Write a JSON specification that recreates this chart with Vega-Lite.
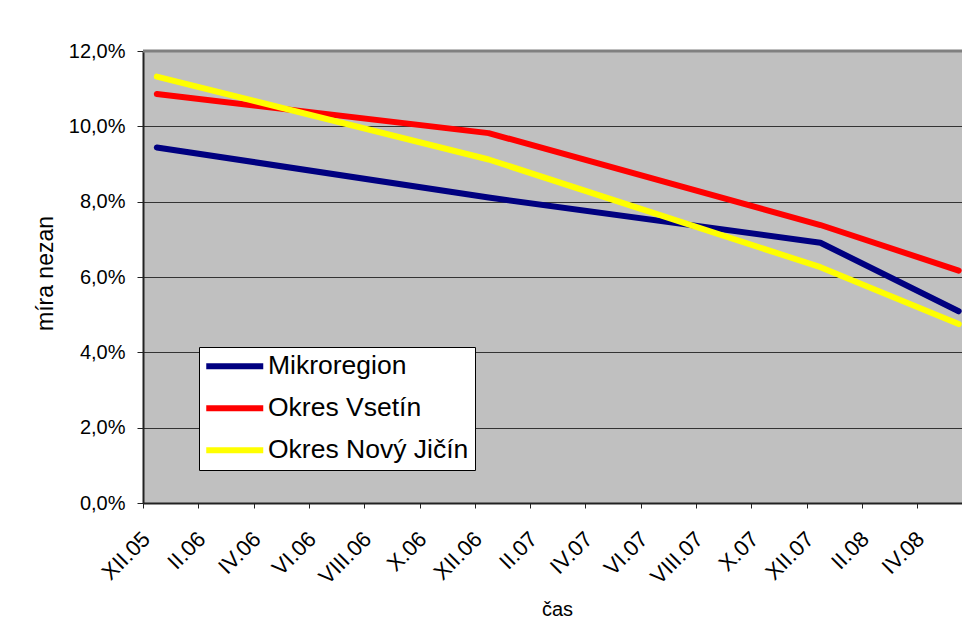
{
  "$schema": "https://vega.github.io/schema/vega-lite/v6.json",
  "autosize": {"type": "none"},
  "width": 819,
  "height": 452,
  "padding": {"left": 143, "top": 51, "right": 0, "bottom": 131},
  "background": "white",
  "config": {
    "font": "Liberation Sans",
    "view": {"stroke": null, "fill": "#C0C0C0"}
  },
  "data": {
    "values": [
      {"oblast": "Mikroregion", "mesic": 0, "obdobi": "XII.05", "mira": 0.0944},
      {"oblast": "Mikroregion", "mesic": 12, "obdobi": "XII.06", "mira": 0.0811},
      {"oblast": "Mikroregion", "mesic": 24, "obdobi": "XII.07", "mira": 0.0691},
      {"oblast": "Mikroregion", "mesic": 29, "obdobi": "V.08", "mira": 0.0509},
      {"oblast": "Okres Vsetín", "mesic": 0, "obdobi": "XII.05", "mira": 0.1086},
      {"oblast": "Okres Vsetín", "mesic": 12, "obdobi": "XII.06", "mira": 0.0982},
      {"oblast": "Okres Vsetín", "mesic": 24, "obdobi": "XII.07", "mira": 0.0738},
      {"oblast": "Okres Vsetín", "mesic": 29, "obdobi": "V.08", "mira": 0.0617},
      {"oblast": "Okres Nový Jičín", "mesic": 0, "obdobi": "XII.05", "mira": 0.1132},
      {"oblast": "Okres Nový Jičín", "mesic": 12, "obdobi": "XII.06", "mira": 0.0912},
      {"oblast": "Okres Nový Jičín", "mesic": 24, "obdobi": "XII.07", "mira": 0.0626},
      {"oblast": "Okres Nový Jičín", "mesic": 29, "obdobi": "V.08", "mira": 0.0475}
    ]
  },
  "layer": [
    {
      "data": {"values": [{}]},
      "mark": {"type": "rule", "color": "#808080", "strokeWidth": 3},
      "encoding": {"y": {"datum": 0.12}}
    },
    {
      "mark": {"type": "line", "strokeWidth": 6, "strokeCap": "round", "strokeJoin": "round", "clip": false},
      "encoding": {
        "x": {
          "field": "mesic",
          "type": "quantitative",
          "scale": {"domain": [-0.5, 29.12], "nice": false, "zero": false},
          "axis": {
            "title": "čas",
            "values": [-0.5, 1.5, 3.5, 5.5, 7.5, 9.5, 11.5, 13.5, 15.5, 17.5, 19.5, 21.5, 23.5, 25.5, 27.5],
            "labelExpr": "['XII.05','II.06','IV.06','VI.06','VIII.06','X.06','XII.06','II.07','IV.07','VI.07','VIII.07','X.07','XII.07','II.08','IV.08'][round((datum.value+0.5)/2)]",
            "grid": false,
            "labelAngle": -45,
            "labelAlign": "right",
            "labelBaseline": "top",
            "labelFontSize": 22,
            "labelColor": "black",
            "labelPadding": 20,
            "labelOffset": -4,
            "labelOverlap": false,
            "labelFlush": false,
            "labelBound": false,
            "tickSize": 5,
            "tickColor": "#222222",
            "domainColor": "#222222",
            "domainWidth": 2,
            "titleFontSize": 20,
            "titleFontWeight": "normal",
            "titleColor": "black",
            "titleX": 414,
            "titleY": 112,
            "titleBaseline": "alphabetic",
            "titleAlign": "center"
          }
        },
        "y": {
          "field": "mira",
          "type": "quantitative",
          "scale": {"domain": [0, 0.12], "nice": false},
          "axis": {
            "title": "míra nezan",
            "values": [0, 0.02, 0.04, 0.06, 0.08, 0.1, 0.12],
            "labelExpr": "replace(format(datum.value,'.1%'),'.',',')",
            "grid": true,
            "gridColor": "#333333",
            "gridWidth": 1,
            "domainColor": "#222222",
            "domainWidth": 2,
            "tickColor": "#222222",
            "tickSize": 6,
            "labelFontSize": 20,
            "labelColor": "black",
            "labelPadding": 12,
            "titleFontSize": 23,
            "titleFontWeight": "normal",
            "titleColor": "black",
            "titleAngle": -90,
            "titleX": -98,
            "titleY": 222,
            "titleAlign": "center",
            "titleBaseline": "middle"
          }
        },
        "color": {
          "field": "oblast",
          "type": "nominal",
          "scale": {
            "domain": ["Mikroregion", "Okres Vsetín", "Okres Nový Jičín"],
            "range": ["#000080", "#FF0000", "#FFFF00"]
          },
          "legend": {
            "title": null,
            "orient": "none",
            "legendX": 56,
            "legendY": 296,
            "fillColor": "white",
            "strokeColor": "black",
            "padding": 6,
            "labelFontSize": 26.5,
            "labelColor": "black",
            "labelLimit": 400,
            "symbolType": "M-2.85,0H2.85",
            "symbolSize": 400,
            "symbolStrokeWidth": 6,
            "symbolOffset": 16.5,
            "labelOffset": 20,
            "rowPadding": 15
          }
        }
      }
    }
  ]
}
